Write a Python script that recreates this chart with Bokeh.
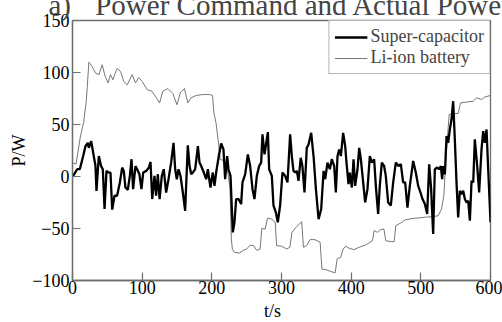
from bokeh.plotting import figure
from bokeh.models import Legend, LegendItem, Range1d, FixedTicker
from bokeh.embed import file_html
from bokeh.resources import INLINE

# ---------------- data ----------------
bat_t = [0, 5, 7, 11.5, 16, 20, 23.5, 28, 33, 38,
         42.6, 47, 51, 54.5, 58, 64, 69, 73.6, 78.5, 85.7,
         90.4, 95, 100, 107, 114, 118, 125, 129.6, 137, 144,
         150, 155, 160.7, 165.5, 170, 177.5, 187, 196.6, 201, 203,
         206, 209.5, 212, 218, 222, 226, 228, 229.5, 232.5, 239.7,
         245.4, 250, 255, 260, 264.5, 269.4, 271.7, 276.5, 280, 286,
         291, 293, 300, 307.6, 312, 315, 322, 329, 331.5, 336,
         341, 348, 355.5, 358, 363.6, 370.8, 377, 380, 385, 388.5,
         392, 397, 404, 411.5, 421, 430.6, 433, 438, 442.5, 447,
         449.7, 457, 461.7, 464, 471, 478, 489, 498.5, 508, 516.7,
         525, 529.6, 533, 536, 538, 540.7, 546.5, 553.6, 557, 565.5,
         575, 580, 587, 592, 600]
bat_P = [13, 12, 20, 39, 52, 74, 110, 106, 99.5, 98,
         107.5, 96, 90, 98, 93, 104, 101, 91.5, 88, 98,
         90, 95, 91.5, 83.6, 82, 78, 70.8, 82, 84.5, 79.8,
         69, 81, 84.5, 70.8, 75.6, 77.9, 78.8, 78.8, 78, 61,
         51.6, 32.5, 16.5, 15, 8, -10, -60, -70, -73, -73.5,
         -71, -69.7, -66, -66.5, -71, -69.7, -50, -50.5, -40, -41,
         -44, -66.5, -67, -69.7, -68, -53.7, -48, -43.5, -68, -66.5,
         -60.7, -60.7, -63.3, -89, -89.5, -91.4, -92.6, -79, -77.7, -69.7,
         -67, -69, -70.3, -68, -65.8, -61.7, -52, -53.7, -51, -50.5,
         -61.7, -62.6, -62.6, -47.3, -44.7, -41.6, -40.3, -39.7, -39, -38.7,
         -37.7, -31.3, -18.6, 16.6, 35.7, 59.7, 60.6, 60.6, 70.8, 71.5,
         72.4, 75.6, 74, 76.5, 77.9]

sc_t = [0, 1, 6.7, 10.5, 15.3, 18.7, 22, 23.4, 26.8, 29.7,
        33, 34.4, 37.8, 41, 43.5, 46, 48.8, 52, 54.5, 57,
        60.3, 64, 68, 71.3, 73.6, 76, 79.4, 82.3, 84.7, 87,
        90.4, 92.8, 96, 99, 101.5, 106, 109.6, 112, 114.4, 117.7,
        120, 122.5, 125, 128.2, 131, 134.4, 137.8, 141.6, 145, 147.4,
        149.7, 152.2, 155, 158.4, 161.7, 165.5, 168, 170.4, 172.8, 176.1,
        180, 182.3, 184.7, 188.5, 191.9, 194.3, 198, 201.4, 203.8, 206.2,
        210, 213.4, 216.7, 219.1, 222, 223.9, 226.8, 230.1, 232.5, 234.9,
        238.3, 242.1, 244, 247.9, 251.7, 255, 258.4, 261.2, 264.6, 267.9,
        270.8, 272.7, 275.6, 277.5, 280.4, 282.3, 286.1, 288.5, 291.9, 294.7,
        298, 301.4, 305.2, 308.6, 312.4, 314.8, 317.2, 319.6, 322, 324.4,
        327.6, 330, 333, 336.3, 338.8, 342.6, 346, 349.4, 353.2, 357,
        360.4, 362.7, 366, 369.4, 372.2, 375.6, 378, 380.4, 382.8, 385.2,
        388.5, 391.4, 393.3, 396.2, 398.1, 401, 403.4, 405.7, 409.1, 411.5,
        413.9, 416.3, 420.1, 423.4, 426.8, 429.6, 433, 435.4, 438.7, 441.1,
        444, 447.3, 449.7, 453.1, 456.9, 460.3, 464.1, 467.9, 471.3, 474.6,
        477.5, 480.8, 484.2, 489, 492.8, 496.2, 499.5, 502.4, 505.8, 509.1,
        512, 514.8, 517.7, 520.1, 523.5, 526.3, 528.7, 530.6, 532.1, 534.5,
        536.9, 539.3, 541.6, 544, 546.4, 548.8, 551.2, 553.6, 556, 558.4,
        560.8, 563.2, 565.6, 568, 570.4, 572.8, 575.2, 577.5, 580.9, 583.7,
        587.1, 589.5, 591.9, 594.3, 596.7, 600]
sc_P = [0, 0.6, 7, 7, 19.7, 29.3, 32.4, 27.6, 34, 22.9,
        10.1, -13.8, 19.7, 10.1, 7, -31.3, 5.4, 3.8, 3.8, -31.9,
        -18.5, -18.5, -5.7, 8.6, 5.4, -10.6, -12.8, 0.6, 16.6, -12.2,
        10.1, 7, 2.2, -12.2, 3.8, 5.4, 8.6, 14, -21.7, 0.6,
        -18.5, 2.2, -21.7, 0.6, 7, -15.4, -2.6, 13.4, 32.4, 7,
        -2.6, 7, 0.6, -15.4, -33, 30, 10.1, 2.2, 3.8, 7,
        29.3, 13.4, 10.1, 3.8, -2.6, 7, -10.6, 3.8, -9, 3.8,
        19.7, 31.8, 26, -2.6, 19.7, 7, 0.6, -53.7, -44, -21.7,
        -21.7, -26.5, -5.7, 2.2, 21.3, 10.1, -12.2, -21.7, 0.6, 10.1,
        13.4, 40.5, 21.3, 29.3, 42.7, 7, 0.6, -28, -34.4, -44,
        -28, 3.8, 0.6, -5.7, 40.5, 19.7, 5.4, 3.8, 5.4, -4.2,
        18, 10.1, -15.4, 27.6, 30.8, 42, 19.7, -12.2, -41, -31.3,
        5.4, -2.6, 13.4, 7, 16.6, 10.1, -15.4, 19.7, 26, 19.7,
        42, 29.3, 13.4, -7.4, 3.8, -10.6, 16.6, -9, 7, 27.6,
        16.6, 0.6, -24.9, -12.2, 19.7, 13.4, 16.6, -9, -36, -9,
        13.4, 10.1, 0.6, -24.9, -28, -5.7, 13.4, 10.1, 11.8, -5.7,
        -5.7, -30, -9, 15, 3.8, -9, -15.4, -21.7, -26.5, -36,
        11.8, -12.2, -55.3, 7, 8.6, 7, 10.1, -2.6, 10.1, 2.2,
        38.9, 32.4, 45.2, 54.8, 72.4, 35.7, -5.7, -39.3, -13.8, -17,
        -13.8, -21.7, -24.9, -23.3, -42.5, -4.2, -5.7, 35.7, 10.1, -15.4,
        26, 43.6, 32.4, 45.2, 7, -44]

x_ticks = [0, 100, 200, 300, 400, 500, 600]
x_tick_labels = ["0", "100", "200", "300", "400", "500", "600"]
y_ticks = [-100, -50, 0, 50, 100, 150]
y_tick_labels = ["\u2212100", "\u221250", "0", "50", "100", "150"]
series_names = ["Super-capacitor", "Li-ion battery"]
title_text = "a)\u00a0\u00a0\u00a0\u200aPower Command and Actual Power"
x_label = "t/s"
y_label = "P/W"

assert len(bat_t) == len(bat_P), (len(bat_t), len(bat_P))
assert len(sc_t) == len(sc_P), (len(sc_t), len(sc_P))

SERIF = "Liberation Serif"
AX = "#6e6e6e"
SHIFT = 14   # part of the title band that lies above the window, as in the reference
BOTTOM = 46  # bottom border (frame bottom stays at 280 px in the window)

p = figure(width=502, height=280 + SHIFT + BOTTOM, output_backend="svg", toolbar_location=None,
           x_range=Range1d(0, 600), y_range=Range1d(-100, 150),
           min_border_left=72, min_border_right=12, min_border_top=19,
           min_border_bottom=BOTTOM, styles={"margin-top": f"-{SHIFT}px"})
p.background_fill_color = "white"
p.border_fill_color = "white"
p.outline_line_color = AX
p.outline_line_width = 1.3
p.xgrid.visible = False
p.ygrid.visible = False

p.title.text = title_text
p.title.text_font = SERIF
p.title.text_font_size = "29px"
p.title.text_font_style = "normal"
p.title.align = "left"
p.title.offset = -24
p.title.standoff = 0

for ax, ticks, labels in ((p.xaxis[0], x_ticks, x_tick_labels), (p.yaxis[0], y_ticks, y_tick_labels)):
    ax.ticker = FixedTicker(ticks=ticks)
    ax.major_label_overrides = dict(zip(ticks, labels))
    ax.axis_line_color = AX
    ax.axis_line_width = 1.3
    ax.major_tick_line_color = AX
    ax.major_tick_line_width = 1.2
    ax.major_tick_in = 8
    ax.major_tick_out = 0
    ax.minor_tick_line_color = None
    ax.major_label_text_font = SERIF
    ax.major_label_text_font_size = "18px"
    ax.major_label_text_color = "black"
    ax.axis_label_text_font = SERIF
    ax.axis_label_text_font_size = "18px"
    ax.axis_label_text_font_style = "normal"
    ax.axis_label_text_color = "black"
p.xaxis.major_label_standoff = 0
p.yaxis.major_label_standoff = 3
p.xaxis.axis_label = x_label + "\u00a0\u00a0\u00a0\u00a0"
p.yaxis.axis_label = y_label
p.xaxis.axis_label_standoff = 4
p.yaxis.axis_label_standoff = 0

r_bat = p.line(bat_t, bat_P, line_color="#777777", line_width=1.0)
r_sc = p.line(sc_t, sc_P, line_color="black", line_width=2.3)

legend = Legend(items=[LegendItem(label=series_names[0], renderers=[r_sc]),
                       LegendItem(label=series_names[1], renderers=[r_bat])],
                location="top_right", margin=0, padding=5, spacing=0,
                label_height=20, glyph_height=20, glyph_width=33,
                label_standoff=3, label_text_font=SERIF,
                label_text_font_size="18px", border_line_color=AX,
                border_line_width=1.2, background_fill_alpha=1.0)
p.add_layout(legend)

open("out.html", "w").write(file_html(p, INLINE))
